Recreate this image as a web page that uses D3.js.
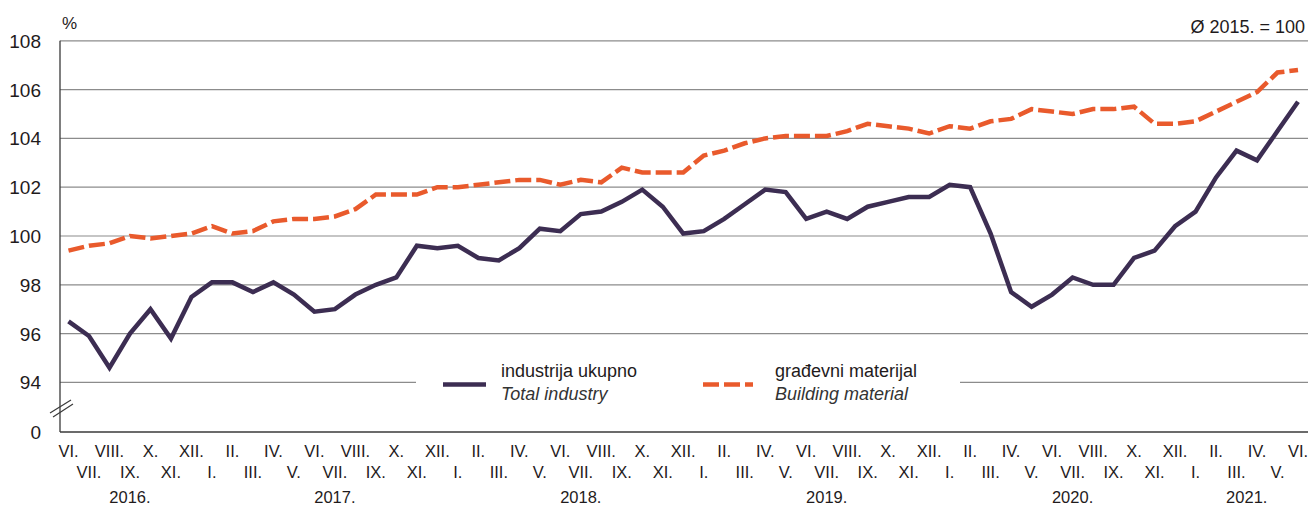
<!DOCTYPE html>
<html>
<head>
<meta charset="utf-8">
<script src="https://cdn.jsdelivr.net/npm/d3@7"></script>
<style>
  body { margin: 0; background: #fff; }
  svg text { font-family: 'Liberation Sans', Arial, sans-serif; fill: #1f1b1c; }
</style>
</head>
<body>
<svg id="chart" width="1308" height="508"></svg>
<script>
// months VI. 2016 .. VI. 2021
var months = ["VI.","VII.","VIII.","IX.","X.","XI.","XII.",
  "I.","II.","III.","IV.","V.","VI.","VII.","VIII.","IX.","X.","XI.","XII.",
  "I.","II.","III.","IV.","V.","VI.","VII.","VIII.","IX.","X.","XI.","XII.",
  "I.","II.","III.","IV.","V.","VI.","VII.","VIII.","IX.","X.","XI.","XII.",
  "I.","II.","III.","IV.","V.","VI.","VII.","VIII.","IX.","X.","XI.","XII.",
  "I.","II.","III.","IV.","V.","VI."];
var years = ["2016.","2017.","2018.","2019.","2020.","2021."];
var yearPos = [3, 13, 25, 37, 49, 57.5]; // month index under which year label sits
var yTicks = [94, 96, 98, 100, 102, 104, 106, 108];

var industry = [96.5,95.9,94.6,96.0,97.0,95.8,97.5,98.1,98.1,97.7,
  98.1,97.6,96.9,97.0,97.6,98.0,98.3,99.6,99.5,99.6,
  99.1,99.0,99.5,100.3,100.2,100.9,101.0,101.4,101.9,101.2,
  100.1,100.2,100.7,101.3,101.9,101.8,100.7,101.0,100.7,101.2,
  101.4,101.6,101.6,102.1,102.0,100.1,97.7,97.1,97.6,98.3,
  98.0,98.0,99.1,99.4,100.4,101.0,102.4,103.5,103.1,104.3,
  105.5];
var building = [99.4,99.6,99.7,100.0,99.9,100.0,100.1,100.4,100.1,100.2,
  100.6,100.7,100.7,100.8,101.1,101.7,101.7,101.7,102.0,102.0,
  102.1,102.2,102.3,102.3,102.1,102.3,102.2,102.8,102.6,102.6,
  102.6,103.3,103.5,103.8,104.0,104.1,104.1,104.1,104.3,104.6,
  104.5,104.4,104.2,104.5,104.4,104.7,104.8,105.2,105.1,105.0,
  105.2,105.2,105.3,104.6,104.6,104.7,105.1,105.5,105.9,106.7,
  106.8];

var purple = "#3c2d52", orange = "#e95a2c";

var svg = d3.select("#chart");
var left = 60, right = 1308, baseY = 432;

var x = d3.scaleLinear().domain([0, months.length - 1]).range([68.5, 1298]);
var y = d3.scaleLinear().domain([94, 108]).range([382.4, 40.8]);

// gridlines (94 is split around the legend)
yTicks.forEach(function(t){
  if (t == 94) {
    svg.append("line").attr("x1", left).attr("x2", 416).attr("y1", y(t)).attr("y2", y(t))
      .attr("stroke", "#8c8c8c").attr("stroke-width", 1.2);
    svg.append("line").attr("x1", 960).attr("x2", right).attr("y1", y(t)).attr("y2", y(t))
      .attr("stroke", "#8c8c8c").attr("stroke-width", 1.2);
  } else {
    svg.append("line").attr("x1", left).attr("x2", right).attr("y1", y(t)).attr("y2", y(t))
      .attr("stroke", "#8c8c8c").attr("stroke-width", 1.2);
  }
  svg.append("text").attr("x", 41).attr("y", y(t) + 7).attr("text-anchor", "end")
    .style("font-size", "19px").text(t);
});

// axes
svg.append("line").attr("x1", left).attr("x2", left).attr("y1", y(108)).attr("y2", baseY)
  .attr("stroke", "#3a3a3a").attr("stroke-width", 1.3);
svg.append("line").attr("x1", left).attr("x2", right).attr("y1", baseY).attr("y2", baseY)
  .attr("stroke", "#3a3a3a").attr("stroke-width", 1.6);
svg.append("text").attr("x", 41).attr("y", baseY + 7).attr("text-anchor", "end")
  .style("font-size", "19px").text("0");

// axis break
svg.append("line").attr("x1", 50).attr("y1", 413).attr("x2", 71).attr("y2", 400).attr("stroke", "#3a3a3a").attr("stroke-width", 1.2);
svg.append("line").attr("x1", 53).attr("y1", 417).attr("x2", 73).attr("y2", 404).attr("stroke", "#3a3a3a").attr("stroke-width", 1.2);

svg.append("text").attr("x", 62).attr("y", 29).style("font-size", "17px").text("%");
svg.append("text").attr("x", 1305).attr("y", 33).attr("text-anchor", "end")
  .style("font-size", "18px").text("Ø 2015. = 100");

// month labels
svg.selectAll(".month").data(months).enter().append("text")
  .attr("class", "month")
  .attr("x", function(d, i){ return x(i); })
  .attr("y", function(d, i){ return i % 2 == 0 ? 457 : 478; })
  .attr("text-anchor", "middle")
  .style("font-size", "16.5px")
  .text(function(d){ return d; });

svg.selectAll(".year").data(years).enter().append("text")
  .attr("class", "year")
  .attr("x", function(d, i){ return x(yearPos[i]); })
  .attr("y", 503)
  .attr("text-anchor", "middle")
  .style("font-size", "16.5px")
  .text(function(d){ return d; });

// lines
var line = d3.line().x(function(d, i){ return x(i); }).y(function(d){ return y(d); });

svg.append("path").datum(building).attr("d", line)
  .attr("fill", "none").attr("stroke", orange).attr("stroke-width", 4.5)
  .attr("stroke-dasharray", "16,5");

svg.append("path").datum(industry).attr("d", line)
  .attr("fill", "none").attr("stroke", purple).attr("stroke-width", 4.5)
  .attr("stroke-linejoin", "miter");

// legend
svg.append("line").attr("x1", 443).attr("x2", 486).attr("y1", 384.5).attr("y2", 384.5)
  .attr("stroke", purple).attr("stroke-width", 4.5);
svg.append("text").attr("x", 501).attr("y", 377).style("font-size", "18px").text("industrija ukupno");
svg.append("text").attr("x", 501).attr("y", 400).style("font-size", "18px")
  .style("font-style", "italic").style("fill", "#333").text("Total industry");

svg.append("line").attr("x1", 703).attr("x2", 753).attr("y1", 384.5).attr("y2", 384.5)
  .attr("stroke", orange).attr("stroke-width", 4.5).attr("stroke-dasharray", "16,5");
svg.append("text").attr("x", 775).attr("y", 377).style("font-size", "18px").text("građevni materijal");
svg.append("text").attr("x", 775).attr("y", 400).style("font-size", "18px")
  .style("font-style", "italic").style("fill", "#333").text("Building material");
</script>
</body>
</html>
